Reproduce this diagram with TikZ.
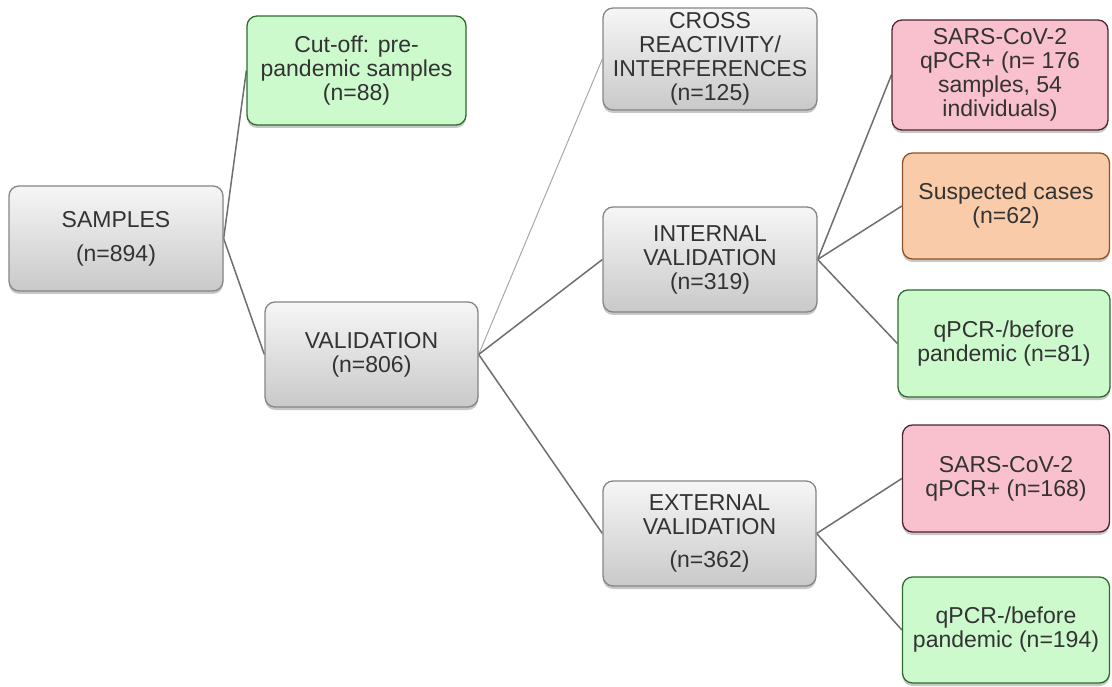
\documentclass[tikz,border=0pt]{standalone}
\usepackage{fontspec}
\setmainfont{Liberation Sans}
\usetikzlibrary{shadows,backgrounds}
\definecolor{txt}{HTML}{333333}
\definecolor{gtop}{HTML}{F6F6F6}
\definecolor{gbot}{HTML}{C9C9C9}
\definecolor{gdraw}{HTML}{858585}
\definecolor{grfill}{HTML}{CCFACC}
\definecolor{grdraw}{HTML}{2F6B2F}
\definecolor{pkfill}{HTML}{F9C1CD}
\definecolor{pkdraw}{HTML}{4E2530}
\definecolor{orfill}{HTML}{F9CBA9}
\definecolor{ordraw}{HTML}{8E5228}
\definecolor{linkc}{HTML}{6E6E6E}
\definecolor{linklightc}{HTML}{A8A8A8}
\begin{document}
\begin{tikzpicture}[x=1pt,y=-1pt,
  box/.style={rounded corners=10pt, line width=1.3pt, align=center, inner sep=0pt,
    text=txt, font=\fontsize{23}{24}\selectfont, minimum width=213pt, minimum height=105pt,
    drop shadow={shadow xshift=0pt, shadow yshift=-3pt, opacity=0.22, fill=black}},
  graybox/.style={box, draw=gdraw, top color=gtop, bottom color=gbot},
  greenbox/.style={box, draw=grdraw, fill=grfill},
  pinkbox/.style={box, draw=pkdraw, fill=pkfill},
  orangebox/.style={box, draw=ordraw, fill=orfill},
  linkline/.style={draw=linkc, line width=1.5pt},
  lightline/.style={draw=linklightc, line width=1pt}
]
\useasboundingbox (0,0) rectangle (1112,687);

\node[graybox, minimum width=214pt] (samples) at (116,238.5) {SAMPLES\\[10pt](n=894)};
\node[greenbox, minimum width=219pt, minimum height=109pt] (cutoff) at (356.5,70.5) {Cut-off: pre-\\pandemic samples\\(n=88)};
\node[graybox] (valid) at (371.5,354.5) {VALIDATION\\(n=806)};
\node[graybox, minimum width=214pt, minimum height=102pt] (cross) at (710,59) {CROSS\\REACTIVITY/\\INTERFERENCES\\(n=125)};
\node[graybox, minimum width=214pt] (internal) at (710,259.5) {INTERNAL\\VALIDATION\\(n=319)};
\node[graybox] (external) at (709.5,533.5) {EXTERNAL\\VALIDATION\\[9pt](n=362)};
\node[pinkbox, minimum width=216pt, minimum height=110pt] (sars1) at (1000,75) {SARS-CoV-2\\qPCR+ (n= 176\\samples, 54\\individuals)};
\node[orangebox, minimum width=207pt, minimum height=106pt] (susp) at (1006,206) {Suspected cases\\(n=62)};
\node[greenbox, minimum width=212pt, minimum height=107pt] (qneg1) at (1004,343.5) {qPCR-/before\\pandemic (n=81)};
\node[pinkbox, minimum width=207pt, minimum height=107pt] (sars2) at (1006,478.5) {SARS-CoV-2\\qPCR+ (n=168)};
\node[greenbox, minimum width=207pt, minimum height=106pt] (qneg2) at (1006,630) {qPCR-/before\\pandemic (n=194)};

\begin{scope}[on background layer]
\draw[linkline] (samples.east) -- (cutoff.west);
\draw[linkline] (samples.east) -- (valid.west);
\draw[lightline] (valid.east) -- (cross.west);
\draw[linkline] (valid.east) -- (internal.west);
\draw[linkline] (valid.east) -- (external.west);
\draw[linkline] (internal.east) -- (sars1.west);
\draw[linkline] (internal.east) -- (susp.west);
\draw[linkline] (internal.east) -- (qneg1.west);
\draw[linkline] (external.east) -- (sars2.west);
\draw[linkline] (external.east) -- (qneg2.west);
\end{scope}
\end{tikzpicture}
\end{document}
